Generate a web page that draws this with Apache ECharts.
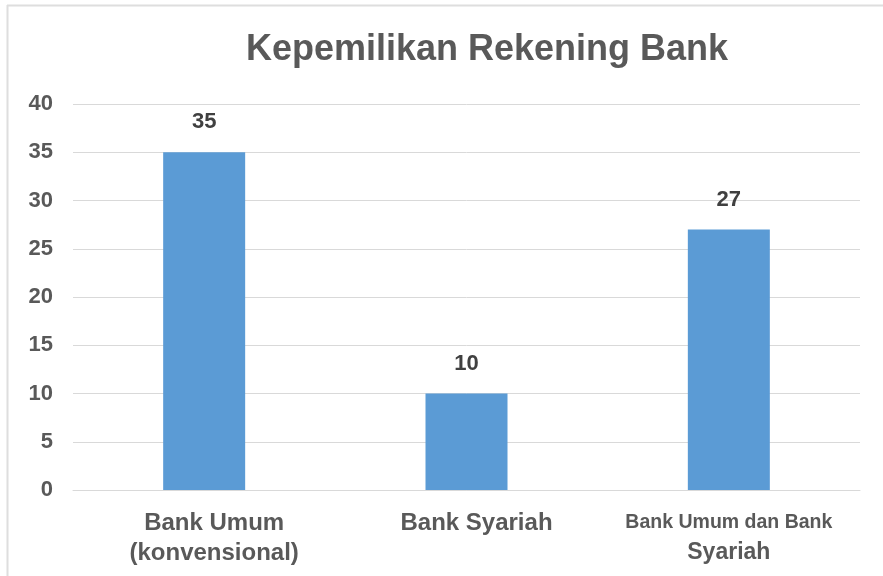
<!DOCTYPE html>
<html><head><meta charset="utf-8">
<script src="https://cdn.jsdelivr.net/npm/echarts@6/dist/echarts.min.js"></script>
<style>html,body{margin:0;padding:0;background:#fff}#c{width:883px;height:576px}</style>
</head><body><div id="c"></div>
<script>
const title = 'Kepemilikan Rekening Bank';
const categories = ['Bank Umum\n(konvensional)', 'Bank Syariah', 'Bank Umum dan Bank\nSyariah'];
const values = [35, 10, 27];
const yTicks = [0, 5, 10, 15, 20, 25, 30, 35, 40];

const chart = echarts.init(document.getElementById('c'));
const font = '"Liberation Sans", Arial, sans-serif';
const lblColor = '#595959';
chart.setOption({
  animation: false,
  backgroundColor: '#fff',
  graphic: [
    {type:'line', shape:{x1:7, y1:5.5, x2:883, y2:5.5}, style:{stroke:'#dedede', lineWidth:2}},
    {type:'line', shape:{x1:7.5, y1:5, x2:7.5, y2:576}, style:{stroke:'#dedede', lineWidth:2}}
  ],
  title: {text: title, left: 482, top: 27, textAlign: 'center',
    textStyle: {fontFamily: font, fontSize: 36, fontWeight: 'bold', color: '#595959'}},
  grid: {left: 73, right: 23, top: 104, bottom: 86},
  xAxis: {type: 'category', data: categories,
    axisLine: {lineStyle: {color: '#d9d9d9', width: 1}}, axisTick: {show: false},
    axisLabel: {interval: 0, margin: 18, fontFamily: font, fontSize: 24, fontWeight: 'bold', color: lblColor, lineHeight: 30,
      formatter: function (v, i) {
        const p = v.split('\n');
        if (i === 2) { return '{s|' + p[0] + '}\n{b|' + p[1] + '}'; }
        return p.map(function (t) { return '{o|' + t + '}'; }).join('\n');
      },
      rich: {
        s: {fontFamily: font, fontSize: 19.5, fontWeight: 'bold', color: lblColor, lineHeight: 30},
        b: {fontFamily: font, fontSize: 23, fontWeight: 'bold', color: lblColor, lineHeight: 30},
        o: {fontFamily: font, fontSize: 24, fontWeight: 'bold', color: lblColor, lineHeight: 30, padding: [0, 0, 0, 20]}
      }}},
  yAxis: {type: 'value', min: yTicks[0], max: yTicks[yTicks.length-1], interval: 5,
    axisLine: {show: false}, axisTick: {show: false},
    splitLine: {lineStyle: {color: '#d9d9d9', width: 1}},
    axisLabel: {margin: 20, fontFamily: font, fontSize: 22, fontWeight: 'bold', color: lblColor}},
  series: [{type: 'bar', data: values, barWidth: 82,
    itemStyle: {color: '#5b9bd5'},
    label: {show: true, position: 'top', distance: 19, fontFamily: font, fontSize: 22, fontWeight: 'bold', color: '#404040'}}]
});
</script></body></html>
